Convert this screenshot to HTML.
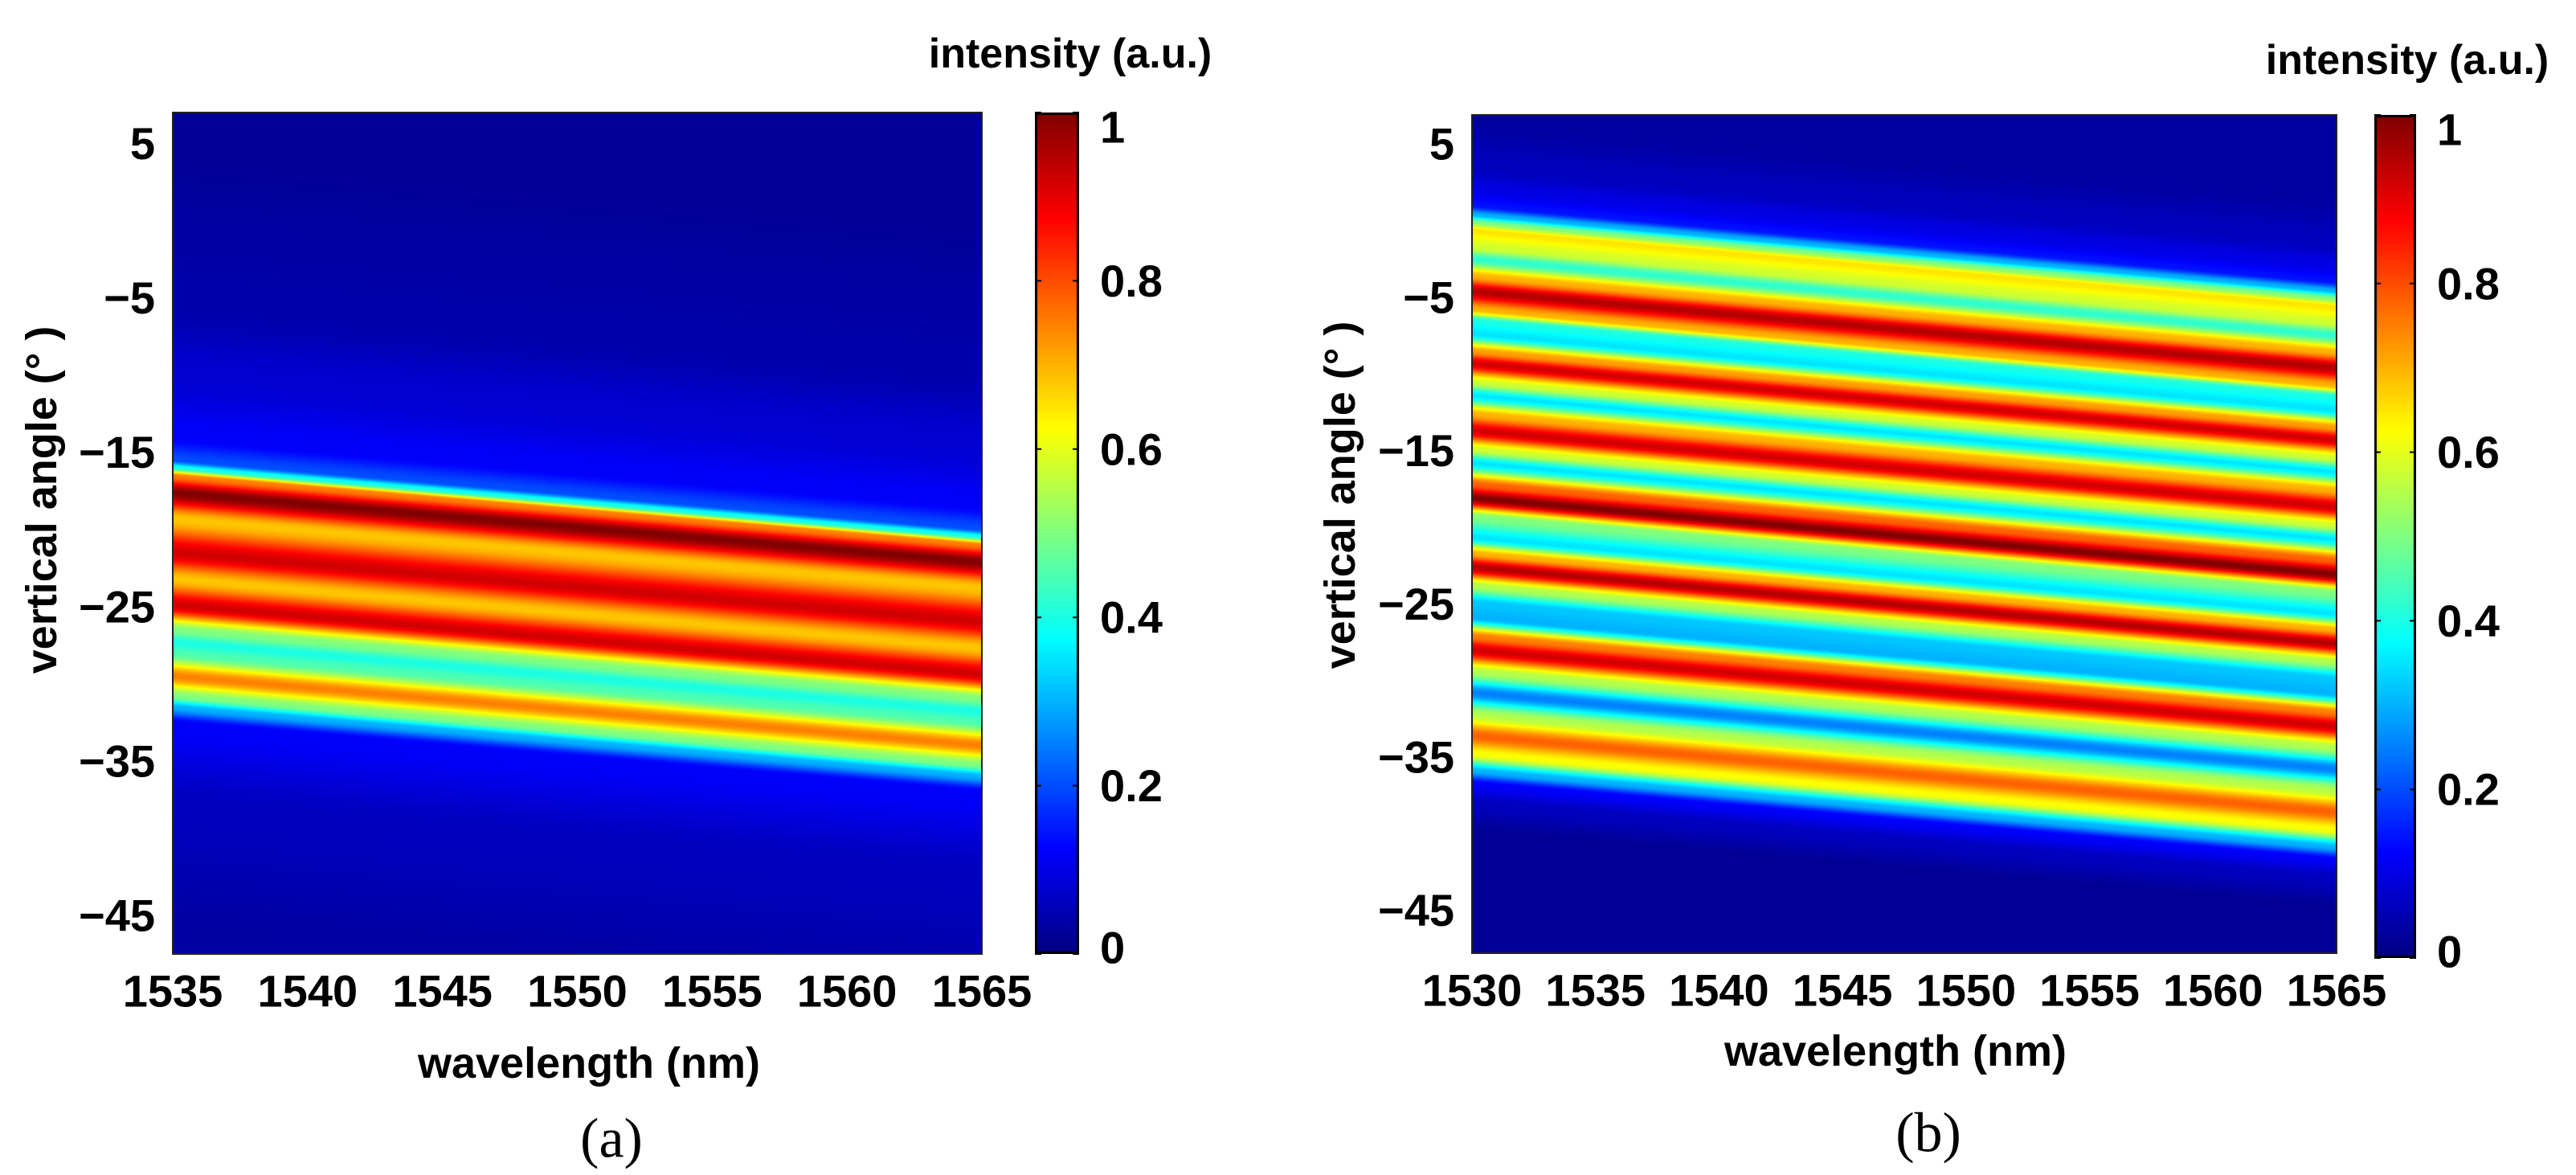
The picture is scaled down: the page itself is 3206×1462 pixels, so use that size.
<!DOCTYPE html>
<html><head><meta charset="utf-8">
<style>
html,body{margin:0;padding:0;background:#fff;}
#root{position:relative;width:3206px;height:1462px;overflow:hidden;background:#fff;}
canvas{position:absolute;display:block;}
svg{position:absolute;left:0;top:0;}
text{font-family:"Liberation Sans Narrow","Liberation Sans",sans-serif;font-weight:bold;fill:#000;}
.cap{font-family:"Liberation Serif",serif;font-weight:normal;}
</style></head>
<body>
<div id="root">
<canvas id="hmA"></canvas>
<canvas id="cbA"></canvas>
<canvas id="hmB"></canvas>
<canvas id="cbB"></canvas>
<svg id="ov" width="3206" height="1462"></svg>
</div>
<script>
// Panel (a) data: intensity profile vs angle at left edge, and drift of stripes with wavelength
const aProfileAngle = [7,-5,-10,-14,-15.5,-16,-16.5,-17.6,-19.3,-21.5,-23.2,-24.9,-26.5,-27.3,-28,-29.5,-30.8,-31.5,-32.5,-38,-47.5];
const aProfileValue = [0.02,0.04,0.08,0.12,0.2,0.4,0.75,1.0,0.68,0.92,0.68,0.92,0.5,0.4,0.45,0.75,0.5,0.3,0.12,0.06,0.03];
const aShiftLambda = [1535,1565];
const aShiftDeg = [0,-4.5];
const aXTicks = [1535,1540,1545,1550,1555,1560,1565];
const aYTicks = [5,-5,-15,-25,-35,-45];
// Panel (b) data
const bProfileAngle = [6.9,3.5,2.0,1.0,0.4,-0.1,-0.6,-1.7,-2.5,-3.6,-4.6,-5.8,-6.5,-7.4,-8.5,-9.3,-10.5,-11.4,-12.6,-13.7,-14.9,-15.8,-17.2,-18.1,-19.3,-20.7,-21.7,-22.6,-23.8,-24.9,-25.9,-27.1,-28,-29.4,-30.8,-32.2,-33.6,-34.8,-35.9,-36.7,-38.0,-40.0,-47.8];
const bProfileValue = [0.03,0.06,0.1,0.14,0.3,0.5,0.65,0.58,0.42,0.7,0.95,0.7,0.4,0.35,0.72,0.92,0.58,0.35,0.7,0.92,0.58,0.35,0.78,1.0,0.5,0.35,0.7,0.95,0.55,0.32,0.3,0.75,0.92,0.55,0.25,0.55,0.78,0.62,0.3,0.12,0.06,0.02,0.02];
const bShiftLambda = [1530,1565];
const bShiftDeg = [0,-5];
const bXTicks = [1530,1535,1540,1545,1550,1555,1560,1565];
const bYTicks = [5,-5,-15,-25,-35,-45];
const cbTicks = [0,0.2,0.4,0.6,0.8,1];
const cbLabels = ["0","0.2","0.4","0.6","0.8","1"];

const NS="http://www.w3.org/2000/svg";
const ov=document.getElementById('ov');
function jet(v){
  v=Math.max(0,Math.min(1,v));
  const f=x=>Math.max(0,Math.min(1,x));
  return [f(1.5-Math.abs(4*v-3)),f(1.5-Math.abs(4*v-2)),f(1.5-Math.abs(4*v-1))].map(c=>Math.round(c*255));
}
function interp(xs,ys,x){
  if(x>=xs[0])return ys[0];
  for(let i=1;i<xs.length;i++){
    if(x>=xs[i]){const t=(xs[i-1]-x)/(xs[i-1]-xs[i]);const s=t*t*(3-2*t);return ys[i-1]+(ys[i]-ys[i-1])*s;}
  }
  return ys[ys.length-1];
}
function txt(s,x,y,size,anchor,name,cls,rot){
  const t=document.createElementNS(NS,'text');
  t.textContent=s;t.setAttribute('x',x);t.setAttribute('y',y);
  t.setAttribute('font-size',size);t.setAttribute('text-anchor',anchor);
  t.setAttribute('dominant-baseline','central');
  if(cls)t.setAttribute('class',cls);
  if(rot)t.setAttribute('transform','rotate(-90 '+x+' '+y+')');
  
  
  ov.appendChild(t);return t;
}
function panel(o){
  const {L,T,R,B,x0,x1,y0,y1,pa,pv,sl,sd,xt,yt,hm,cb,cbL,cbR,cbT,cbB}=o;
  const W=R-L,H=B-T;
  const xs=v=>L+(v-x0)/(x1-x0)*W;
  const ys=v=>T+(y1-v)/(y1-y0)*H;
  const c=document.getElementById(hm);
  c.width=W;c.height=H;c.style.left=L+'px';c.style.top=T+'px';
  const ctx=c.getContext('2d');const img=ctx.createImageData(W,H);
  for(let i=0;i<W;i++){
    const lam=x0+(i+0.5)/W*(x1-x0);
    const sh=sd[0]+(lam-sl[0])/(sl[1]-sl[0])*(sd[1]-sd[0]);
    for(let j=0;j<H;j++){
      const ang=y1-(j+0.5)/H*(y1-y0);
      const v=interp(pa,pv,ang-sh);
      const col=jet(v);const k=(j*W+i)*4;
      img.data[k]=col[0];img.data[k+1]=col[1];img.data[k+2]=col[2];img.data[k+3]=255;
    }
  }
  ctx.putImageData(img,0,0);
  const cc=document.getElementById(cb);
  const cw=cbR-cbL,ch=cbB-cbT;
  cc.width=cw;cc.height=ch;cc.style.left=cbL+'px';cc.style.top=cbT+'px';
  const c2=cc.getContext('2d');
  for(let j=0;j<ch;j++){const col=jet(1-j/(ch-1));c2.fillStyle='rgb('+col+')';c2.fillRect(0,j,cw,1);}
  c2.strokeStyle='#000';c2.lineWidth=3;c2.strokeRect(1.5,1.5,cw-3,ch-3);
  const cy=v=>cbB-v*(cbB-cbT);
  cbTicks.forEach((v,i)=>{
    const y=cy(v);
    const ln=document.createElementNS(NS,'path');
    ln.setAttribute('d','M'+cbL+' '+y+'h8M'+cbR+' '+y+'h-8');
    ln.setAttribute('stroke','#000');ln.setAttribute('stroke-width','2');
    
    
    ov.appendChild(ln);
    let ty=y; if(v===1)ty=y+18; if(v===0)ty=y-8;
    txt(cbLabels[i],cbR+26,ty,56,'start','colorbar-label');
  });
  const r=document.createElementNS(NS,'rect');
  r.setAttribute('x',L);r.setAttribute('y',T);r.setAttribute('width',W);r.setAttribute('height',H);
  r.setAttribute('fill','none');r.setAttribute('stroke','#222');r.setAttribute('stroke-width','2');
  
  
  ov.appendChild(r);
  xt.forEach(v=>txt(String(v),xs(v),B+46,56,'middle','x-tick-label'));
  yt.forEach(v=>txt(String(v).replace('-','\u2212'),L-22,ys(v),56,'end','y-tick-label'));
}
panel({L:215,T:140,R:1222,B:1187,x0:1535,x1:1565,y0:-47.5,y1:7,pa:aProfileAngle,pv:aProfileValue,sl:aShiftLambda,sd:aShiftDeg,xt:aXTicks,yt:aYTicks,hm:'hmA',cb:'cbA',cbL:1288,cbR:1343,cbT:140,cbB:1187});
panel({L:1832,T:143,R:2908,B:1186,x0:1530,x1:1565,y0:-47.8,y1:6.9,pa:bProfileAngle,pv:bProfileValue,sl:bShiftLambda,sd:bShiftDeg,xt:bXTicks,yt:bYTicks,hm:'hmB',cb:'cbB',cbL:2955,cbR:3007,cbT:143,cbB:1192});
txt('wavelength (nm)',733,1323,54,'middle','x-axis-title-a');
txt('wavelength (nm)',2359,1308,54,'middle','x-axis-title-b');
txt('vertical angle (\u00b0 )',52,622,54,'middle','y-axis-title-a',null,true);
txt('vertical angle (\u00b0 )',1668,616,54,'middle','y-axis-title-b',null,true);
txt('intensity (a.u.)',1332,67,52,'middle','colorbar-title-a');
txt('intensity (a.u.)',2996,75,52,'middle','colorbar-title-b');
txt('(a)',761,1417,70,'middle','caption-a','cap');
txt('(b)',2400,1410,70,'middle','caption-b','cap');
</script>
</body></html>
